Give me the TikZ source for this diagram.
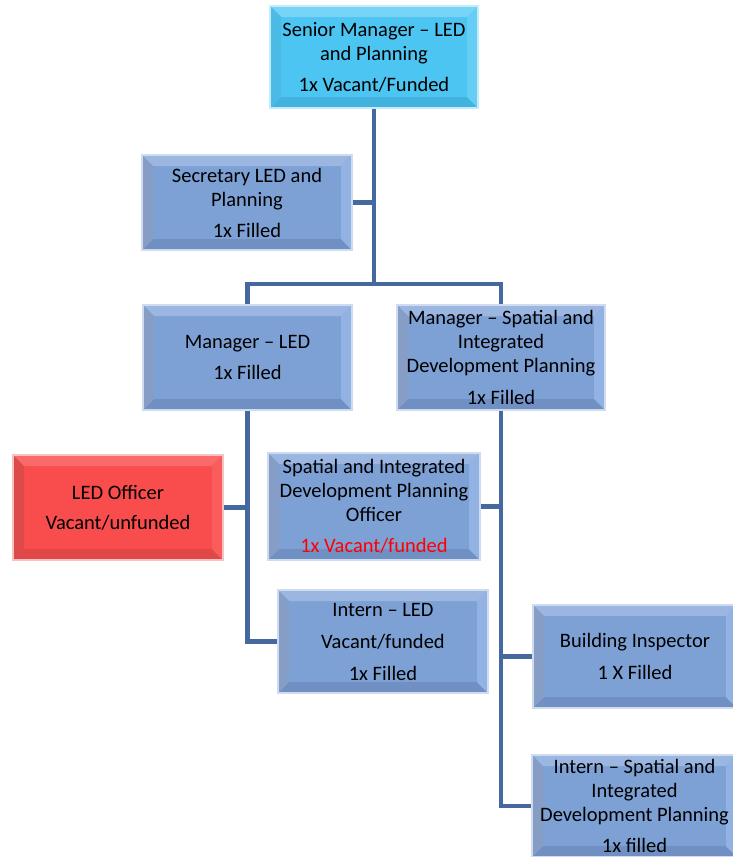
\documentclass[tikz,border=0pt]{standalone}
\usepackage{fontspec}
\setmainfont{Carlito}
\usetikzlibrary{calc}
\definecolor{bluebase}{HTML}{7DA1D5}
\definecolor{bluetop}{HTML}{9BB6E0}
\definecolor{bluebot}{HTML}{7090C3}
\definecolor{blueleft}{HTML}{869DC6}
\definecolor{blueright}{HTML}{93B2E4}
\definecolor{blueglow}{HTML}{CFDCF0}
\definecolor{cyanbase}{HTML}{4DC5F2}
\definecolor{cyantop}{HTML}{78D4F6}
\definecolor{cyanbot}{HTML}{42B3DF}
\definecolor{cyanleft}{HTML}{4BBBE6}
\definecolor{cyanright}{HTML}{66CEF5}
\definecolor{cyanglow}{HTML}{C2ECFA}
\definecolor{redbase}{HTML}{F94C4C}
\definecolor{redtop}{HTML}{FA6A6A}
\definecolor{redbot}{HTML}{E04848}
\definecolor{redleft}{HTML}{DE4A4A}
\definecolor{redright}{HTML}{FA5C5C}
\definecolor{redglow}{HTML}{F7C2C2}
\definecolor{linkcol}{HTML}{45699E}
\newcommand\bevfaces[1]{%
 \fill[#1top] (path picture bounding box.north west) -- (path picture bounding box.north east) -- ([shift={(-11pt,-11pt)}]path picture bounding box.north east) -- ([shift={(11pt,-11pt)}]path picture bounding box.north west) -- cycle;
 \fill[#1bot] (path picture bounding box.south west) -- (path picture bounding box.south east) -- ([shift={(-11pt,11pt)}]path picture bounding box.south east) -- ([shift={(11pt,11pt)}]path picture bounding box.south west) -- cycle;
 \fill[#1left] (path picture bounding box.north west) -- ([shift={(11pt,-11pt)}]path picture bounding box.north west) -- ([shift={(11pt,11pt)}]path picture bounding box.south west) -- (path picture bounding box.south west) -- cycle;
 \fill[#1right] (path picture bounding box.north east) -- ([shift={(-11pt,-11pt)}]path picture bounding box.north east) -- ([shift={(-11pt,11pt)}]path picture bounding box.south east) -- (path picture bounding box.south east) -- cycle;
}
\tikzset{
 bevbox/.style={draw=#1glow, line width=1.5pt, fill=#1base, path picture={\bevfaces{#1}},
   align=center, inner sep=0pt, font={\fontsize{20.5}{24}\selectfont}, text=black},
 link/.style={draw=linkcol, line width=4.2pt}
}
\begin{document}
\begin{tikzpicture}[x=1pt,y=-1pt]
\clip (0,0) rectangle (733,857);
\fill[white] (0,0) rectangle (733,857);
\node[bevbox=cyan, minimum width=208pt, minimum height=102pt] (sm) at (374,57)
  {Senior Manager – LED\\and Planning\\[7pt]1x Vacant/Funded};
\node[bevbox=blue, minimum width=210pt, minimum height=95pt] (sec) at (247,202.5)
  {Secretary LED and\\Planning\\[7pt]1x Filled};
\node[bevbox=blue, minimum width=209pt, minimum height=105pt] (mled) at (247.5,357.5)
  {Manager – LED\\[7pt]1x Filled};
\node[bevbox=blue, minimum width=208pt, minimum height=105pt] (msp) at (501,357.5)
  {Manager – Spatial and\\Integrated\\Development Planning\\[8pt]1x Filled};
\node[bevbox=red, minimum width=210pt, minimum height=105pt] (ledo) at (118,507.5)
  {LED Officer\\[6pt]Vacant/unfunded};
\node[bevbox=blue, minimum width=212pt, minimum height=107pt] (spo) at (374,506.5)
  {Spatial and Integrated\\Development Planning\\Officer\\[7pt]\textcolor{red}{1x Vacant/funded}};
\node[bevbox=blue, minimum width=210pt, minimum height=103pt] (iled) at (383,641.5)
  {Intern – LED\\[8pt]Vacant/funded\\[8pt]1x Filled};
\node[bevbox=blue, minimum width=204pt, minimum height=103pt] (bi) at (635,656.5)
  {Building Inspector\\[8pt]1 X Filled};
\node[bevbox=blue, minimum width=205pt, minimum height=102pt] (isp) at (634.5,806)
  {Intern – Spatial and\\Integrated\\Development Planning\\[7pt]1x filled};
\coordinate (j1) at ($(sm.south)+(0,175)$);
\draw[link] (sm.south) -- (j1);
\draw[link] (sec.east) -- (sec.east -| sm.south);
\draw[link] (mled.north) |- (j1) -| (msp.north);
\draw[link] (mled.south) |- (iled.west);
\draw[link] (ledo.east) -- (ledo.east -| mled.south);
\draw[link] (msp.south) |- (isp.west);
\draw[link] (spo.east) -- (spo.east -| msp.south);
\draw[link] (bi.west) -- (bi.west -| msp.south);
\end{tikzpicture}
\end{document}
